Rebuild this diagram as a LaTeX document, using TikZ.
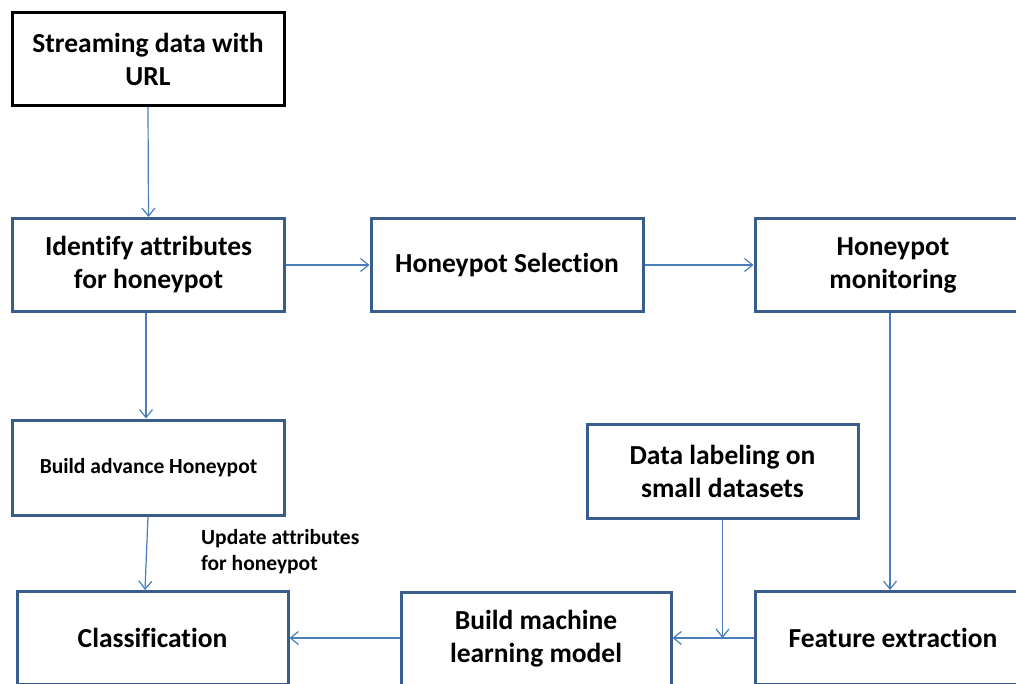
\documentclass[tikz,border=0pt]{standalone}
\usepackage{fontspec}
\setmainfont{Carlito}[Ligatures=NoCommon]
\usetikzlibrary{arrows.meta}
\definecolor{boxline}{HTML}{385D8A}
\definecolor{flow}{HTML}{4A7EBB}
\tikzset{
  stage/.style={draw=boxline, line width=3pt, fill=white, align=center,
    font=\fontsize{27.5}{33}\selectfont\bfseries, inner sep=0pt,
    minimum width=272pt, minimum height=93pt},
  small/.style={font=\fontsize{21.5}{26}\selectfont\bfseries},
  link/.style={draw=flow, line width=1.2pt,
    -{Straight Barb[length=8pt,width=13pt,line width=1.2pt]}}
}
\begin{document}
\begin{tikzpicture}[x=1pt,y=-1pt]
\useasboundingbox (0,0) rectangle (1016,684);
\clip (0,0) rectangle (1016,684);
\fill[white] (0,0) rectangle (1016,684);

% process stages
\node[stage, draw=black] (src) at (148,59) {Streaming data with\\URL};
\node[stage] (ident) at (148.5,265) {Identify attributes\\for honeypot};
\node[stage] (sel) at (507,265) {Honeypot Selection};
\node[stage, minimum width=276pt] (mon) at (893,265) {Honeypot\\monitoring};
\node[stage, small, minimum height=95pt] (adv) at (148.5,467.5) {Build advance Honeypot};
\node[stage, minimum width=271pt, minimum height=94pt] (lab) at (722.5,471) {Data labeling on\\small datasets};
\node[stage, minimum width=271pt] (cls) at (152.5,638) {Classification};
\node[stage, minimum width=270pt] (ml) at (536,639) {Build machine\\learning model};
\node[stage, minimum width=276pt] (feat) at (893,638) {Feature extraction};

% edge label
\node[small, align=left, anchor=north west, inner sep=0pt] (upd) at (201,529)
  {Update attributes\\for honeypot};

% connectors
\draw[link] (src.south) -- (ident.north);
\draw[link] (ident.east) -- (sel.west);
\draw[link] (sel.east) -- (mon.west);
\draw[link] ([xshift=-2.5pt]ident.south) -- ([xshift=-2.5pt]adv.north);
\draw[link] ([xshift=-0.5pt]adv.south) -- ([xshift=-7.5pt]cls.north);
\draw[link] ([xshift=-3pt]mon.south) -- ([xshift=-3pt]feat.north);
\draw[link] (feat.west) -- (ml.east |- feat.west);
\coordinate (join) at (lab.south |- feat.west);
\draw[link] (lab.south) -- (join);
\draw[link] (ml.west |- cls.east) -- (cls.east);
\end{tikzpicture}
\end{document}
